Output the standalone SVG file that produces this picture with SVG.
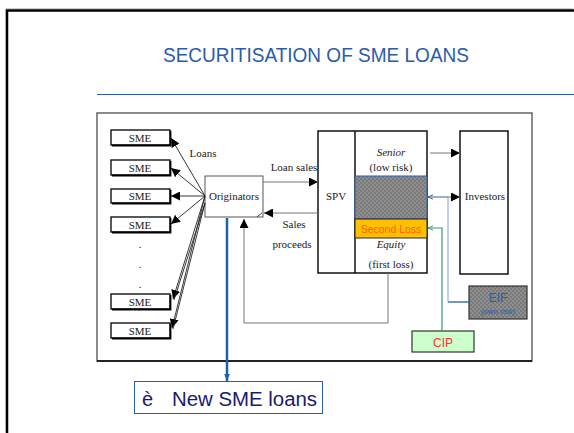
<svg xmlns="http://www.w3.org/2000/svg" width="574" height="433" viewBox="0 0 574 433">
<defs>
<pattern id="chk" width="4" height="4" patternUnits="userSpaceOnUse">
<rect width="4" height="4" fill="#7a7a7a"/>
<rect width="2" height="2" fill="#8e8e8e"/>
<rect x="2" y="2" width="2" height="2" fill="#8e8e8e"/>
</pattern>
<marker id="ah" viewBox="0 0 10 10" refX="10" refY="5" markerWidth="9" markerHeight="9" markerUnits="userSpaceOnUse" orient="auto">
<path d="M0,0 L10,5 L0,10 z" fill="#000"/>
</marker>
<marker id="ahb" viewBox="0 0 10 10" refX="9" refY="5" markerWidth="6" markerHeight="6" markerUnits="userSpaceOnUse" orient="auto">
<path d="M0,1 L9,5 L0,9" fill="none" stroke="#2a5caa" stroke-width="1.5"/>
</marker>
<marker id="ahg" viewBox="0 0 10 10" refX="9" refY="5" markerWidth="6" markerHeight="6" markerUnits="userSpaceOnUse" orient="auto">
<path d="M0,1 L9,5 L0,9" fill="none" stroke="#3a9a6a" stroke-width="1.5"/>
</marker>
<marker id="ahn" viewBox="0 0 10 10" refX="10" refY="5" markerWidth="7" markerHeight="7" markerUnits="userSpaceOnUse" orient="auto">
<path d="M0,1 L10,5 L0,9 z" fill="#1f5fb0"/>
</marker>
</defs>
<style>
.serif{font-family:"Liberation Serif","Times New Roman",serif;font-size:11px;fill:#222;text-anchor:middle}
.it{font-style:italic}
.sme rect.b{fill:#fff;stroke:#000;stroke-width:1.3}
.sh{stroke:#000;stroke-width:1.8;fill:none}
.blk{stroke:#222;stroke-width:0.9;fill:none}
.gr{stroke:#777;stroke-width:1;fill:none}
.box{fill:#fff;stroke:#000;stroke-width:1.4}
.sans{font-family:"Liberation Sans",Arial,sans-serif;text-anchor:middle}
</style>
<rect width="574" height="433" fill="#fff"/>
<!-- outer frame -->
<path d="M7,433 V10 H574" fill="none" stroke="#ccc" stroke-width="1" transform="translate(-1,-1.5)"/>
<path d="M7,433 V10.5 H574" fill="none" stroke="#000" stroke-width="2.5"/>
<!-- title -->
<text x="316" y="62" class="sans" font-size="20" fill="#2a5caa" textLength="306" lengthAdjust="spacingAndGlyphs">SECURITISATION OF SME LOANS</text>
<line x1="97" y1="94.5" x2="574" y2="94.5" stroke="#2a5caa" stroke-width="1.2"/>
<!-- inner diagram frame -->
<rect x="97" y="113" width="435" height="248" fill="#fff" stroke="#666" stroke-width="1.5"/>
<line x1="97" y1="361" x2="532" y2="361" stroke="#000" stroke-width="1.3"/>
<!-- SME nodes -->
<g id="sme1" class="sme"><rect class="b" x="111" y="130" width="59" height="15"/><path class="sh" d="M112,145.5 H170.5 V131"/><text class="serif" x="140" y="141.5">SME</text></g>
<g id="sme2" class="sme"><rect class="b" x="111" y="160" width="59" height="15"/><path class="sh" d="M112,175.5 H170.5 V161"/><text class="serif" x="140" y="171.5">SME</text></g>
<g id="sme3" class="sme"><rect class="b" x="111" y="189" width="59" height="14"/><path class="sh" d="M112,203.5 H170.5 V190"/><text class="serif" x="140" y="200">SME</text></g>
<g id="sme4" class="sme"><rect class="b" x="111" y="217" width="59" height="15"/><path class="sh" d="M112,232.5 H170.5 V218"/><text class="serif" x="140" y="228.5">SME</text></g>
<g id="dots"><text class="serif" x="140" y="248">.</text><text class="serif" x="140" y="268">.</text><text class="serif" x="140" y="288">.</text></g>
<g id="sme5" class="sme"><rect class="b" x="111" y="294" width="59" height="15"/><path class="sh" d="M112,309.5 H170.5 V295"/><text class="serif" x="140" y="305.5">SME</text></g>
<g id="sme6" class="sme"><rect class="b" x="111" y="323" width="59" height="15"/><path class="sh" d="M112,338.5 H170.5 V324"/><text class="serif" x="140" y="334.5">SME</text></g>
<!-- Originators -->
<g id="originators"><rect x="205" y="176" width="58" height="41" fill="#fff" stroke="#444" stroke-width="0.9"/><text class="serif" x="234" y="200">Originators</text></g>
<!-- SPV -->
<g id="spv">
<rect class="box" x="318" y="131" width="109" height="142"/>
<line x1="355" y1="131" x2="355" y2="273" stroke="#000" stroke-width="1.4"/>
<text class="serif" x="336" y="200">SPV</text>
<text class="serif it" x="391" y="156">Senior</text>
<text class="serif" x="391" y="171">(low risk)</text>
<rect x="355" y="176" width="72" height="43" fill="url(#chk)" stroke="#2a5caa" stroke-width="1"/>
<rect x="355" y="219" width="72" height="19" fill="#ffc000" stroke="#222" stroke-width="1"/>
<text class="sans" x="391" y="232.5" font-size="10.5" fill="#ff5a00">Second Loss</text>
<text class="serif it" x="391" y="248">Equity</text>
<text class="serif" x="391" y="268">(first loss)</text>
</g>
<!-- Investors -->
<g id="investors"><rect class="box" x="460" y="131" width="48" height="143"/><text class="serif" x="485" y="200">Investors</text></g>
<!-- EIF -->
<g id="eif"><rect x="469" y="286" width="58" height="33" fill="url(#chk)" stroke="#333" stroke-width="1.2"/><text class="sans" x="498" y="302" font-size="12" fill="#2a5caa">EIF</text><text class="sans" x="498" y="313.5" font-size="8" fill="#2a5caa">(own risk)</text></g>
<!-- CIP -->
<g id="cip"><rect x="412" y="331" width="62" height="21" fill="#ccffcc" stroke="#333" stroke-width="1.2"/><text class="sans" x="443" y="346.5" font-size="12" fill="#ff3333">CIP</text></g>
<!-- New SME loans -->
<g id="newloans"><rect x="134.5" y="381.5" width="188" height="32" fill="#fff" stroke="#2a5caa" stroke-width="1"/><text x="142" y="406" font-family="'Liberation Sans',Arial,sans-serif" font-size="20" fill="#1a1a70">è</text><text x="172" y="406" font-family="'Liberation Sans',Arial,sans-serif" font-size="20" fill="#1a1a70" textLength="145" lengthAdjust="spacingAndGlyphs">New SME loans</text></g>
<!-- connectors -->
<g id="connectors">
<line class="blk" x1="205" y1="196" x2="171" y2="138" marker-end="url(#ah)"/>
<line class="blk" x1="205" y1="196" x2="171" y2="168" marker-end="url(#ah)"/>
<line class="blk" x1="205" y1="196" x2="171" y2="196" marker-end="url(#ah)"/>
<line class="blk" x1="205" y1="196" x2="171" y2="224" marker-end="url(#ah)"/>
<line class="blk" x1="205" y1="196" x2="173" y2="299" marker-end="url(#ah)"/>
<line class="blk" x1="205" y1="203" x2="174" y2="300"/>
<line class="blk" x1="205" y1="196" x2="172" y2="328" marker-end="url(#ah)"/>
<line class="blk" x1="205" y1="203" x2="173" y2="329"/>
<text class="serif" x="203" y="157">Loans</text>
<line class="gr" x1="263" y1="182" x2="318" y2="182" marker-end="url(#ah)"/>
<text class="serif" x="294" y="171">Loan sales</text>
<line class="gr" x1="318" y1="213" x2="264" y2="213" marker-end="url(#ah)"/>
<path d="M257,217 L262,213" stroke="#333" stroke-width="0.9" fill="none"/>
<text class="serif" x="294" y="228">Sales</text>
<text class="serif" x="292" y="248">proceeds</text>
<path class="gr" d="M388,273 V323 H244 V219" marker-end="url(#ah)"/>
<line stroke="#1f5fb0" stroke-width="2.5" x1="227" y1="218" x2="227" y2="381" marker-end="url(#ahn)"/>
<line class="gr" x1="430" y1="153" x2="460" y2="153" marker-end="url(#ah)" stroke="#555"/>
<line class="gr" x1="427" y1="197" x2="460" y2="197" marker-end="url(#ah)" stroke="#555"/>
<path d="M469,302 H448" stroke="#2a5caa" stroke-width="1.3" fill="none"/>
<path d="M448,302 V197 H428" stroke="#7d9fd6" stroke-width="1" fill="none" marker-end="url(#ahb)"/>
<path d="M442,331 V228 H428" stroke="#3a9a6a" stroke-width="1.2" fill="none" marker-end="url(#ahg)"/>
</g>
</svg>
